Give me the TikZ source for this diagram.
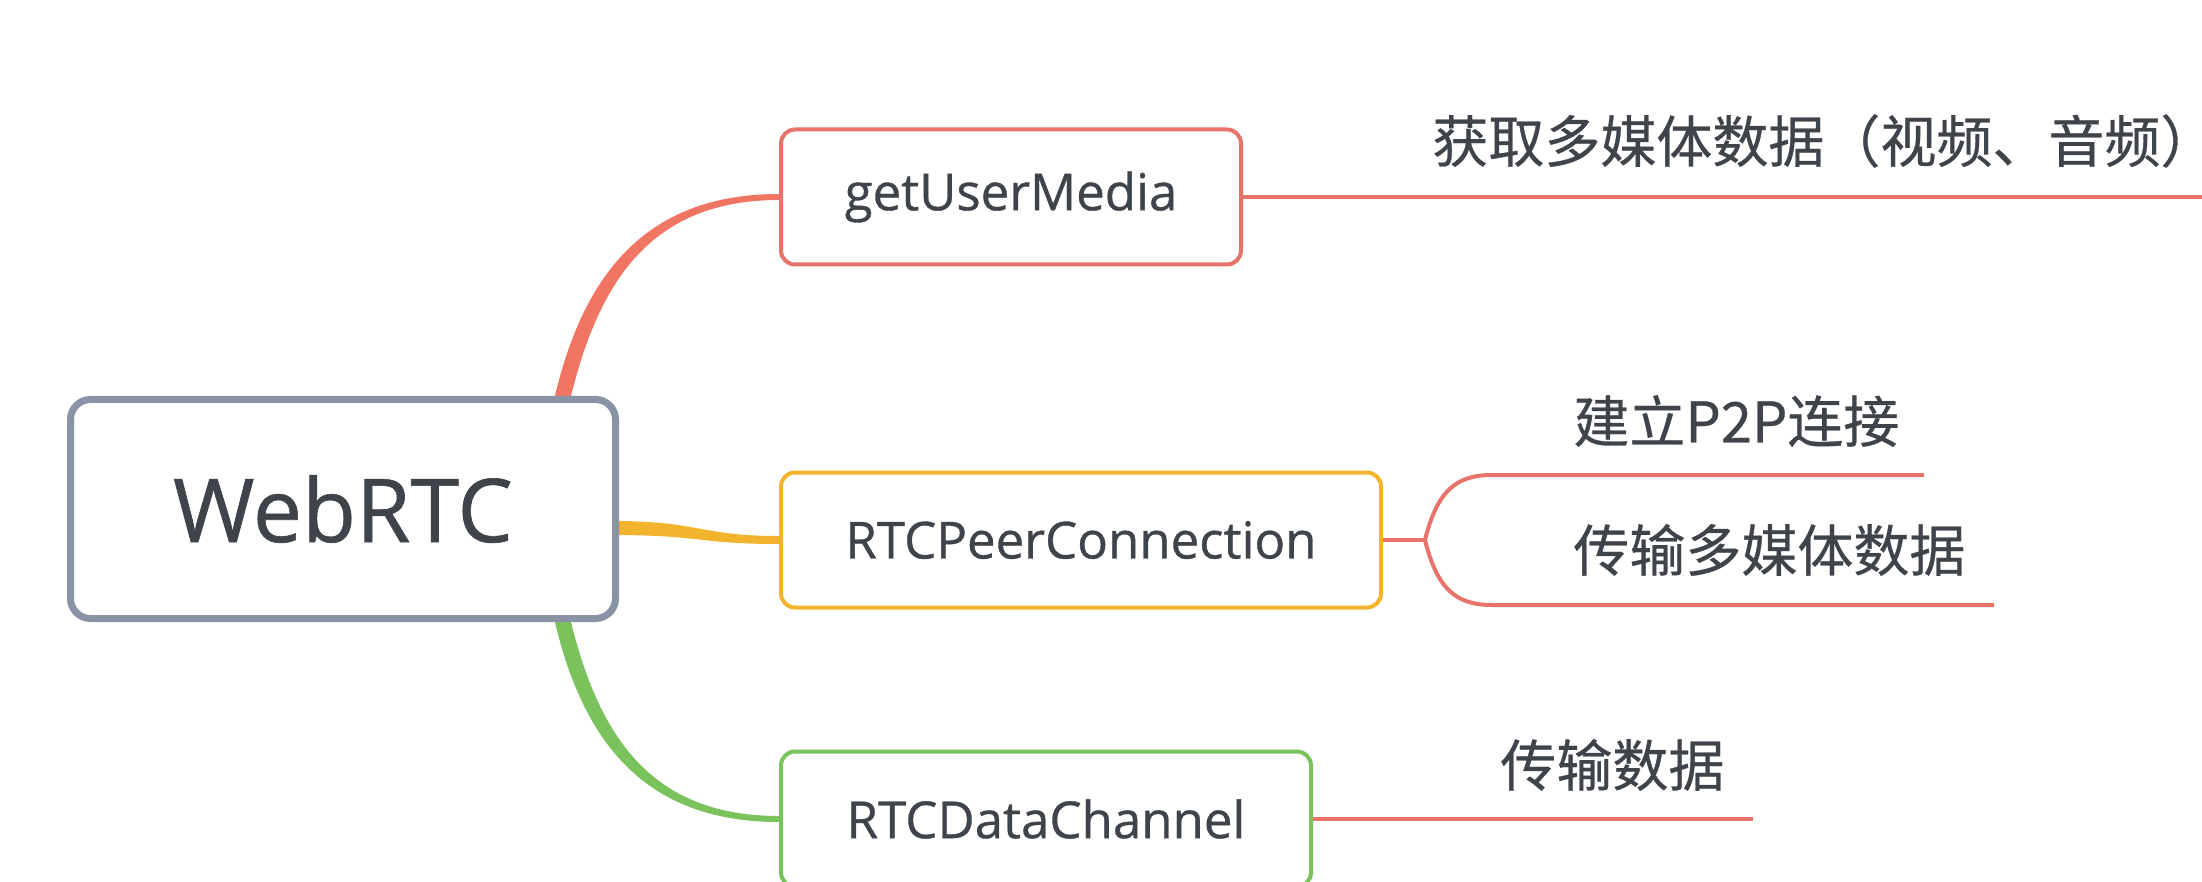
\documentclass[tikz,border=0pt]{standalone}
\usepackage{fontspec}
\setmainfont{Open Sans}[FakeBold=0.7]
\newfontfamily\cjk{Noto Sans CJK SC}[FakeBold=0.5]
\definecolor{txt}{HTML}{3F434A}
\definecolor{redc}{HTML}{E8736B}
\definecolor{redl}{HTML}{F07563}
\definecolor{orc}{HTML}{F2B42C}
\definecolor{grc}{HTML}{7AC25C}
\definecolor{grayc}{HTML}{8A93A6}
\begin{document}
\begin{tikzpicture}[x=0.5pt,y=-0.5pt,
  subbox/.style={draw, line width=2pt, rounded corners=7pt, fill=white,
    minimum height=67.5pt, inner sep=0pt, text=txt,
    font=\fontsize{25.5}{30}\selectfont},
  rootbox/.style={draw=grayc, line width=3.5pt, rounded corners=10pt, fill=white,
    minimum width=272.5pt, minimum height=109.5pt, inner sep=0pt, text=txt,
    font=\fontsize{44}{52}\selectfont},
  leaf/.style={anchor=west, inner sep=0pt, text=txt,
    font=\cjk\fontsize{28}{34}\selectfont},
  thinline/.style={draw=redc, line width=2pt}]
\useasboundingbox (0,0) rectangle (2202,882);
\clip (0,0) rectangle (2202,882);
\fill[white] (0,0) rectangle (2202,882);

% tapered connectors from the root
\fill[redl] (554,400) .. controls (582,278) and (643,194) .. (779,194)
  -- (779,200) .. controls (649,200) and (598,284) .. (570,400) -- cycle;
\fill[orc] (612,521) .. controls (700,521) and (700,536) .. (779,536)
  -- (779,544) .. controls (700,544) and (700,535) .. (612,535) -- cycle;
\fill[grc] (554,618) .. controls (582,740) and (643,822) .. (779,822)
  -- (779,816) .. controls (649,816) and (598,734) .. (570,618) -- cycle;

% nodes
\node[rootbox] (root) at (343,509) {WebRTC};
\node[subbox, draw=redc, minimum width=230pt] (gum) at (1011,197) {getUserMedia};
\node[subbox, draw=orc, minimum width=300pt] (pc) at (1081,540) {RTCPeerConnection};
\node[subbox, draw=grc, minimum width=265pt] (dc) at (1046,819) {RTCDataChannel};

% leaf lines
\coordinate (gumend) at (2215,197);
\draw[thinline] (gum.east) -- (gumend);
\node[leaf] (t1) at (1432,141) {获取多媒体数据（视频、音频）};

\coordinate (bp) at (1425,540);
\coordinate (p2pend) at (1924,475);
\coordinate (mmend) at (1994,605);
\draw[thinline] (pc.east) -- (bp);
\draw[thinline] (bp) .. controls (1437,492) and (1455,475) .. (1492,475) -- (p2pend);
\draw[thinline] (bp) .. controls (1437,588) and (1455,605) .. (1492,605) -- (mmend);
\node[leaf] (t2) at (1573,421) {建立P2P连接};
\node[leaf] (t3) at (1573,550) {传输多媒体数据};

\coordinate (dcend) at (1753,819);
\draw[thinline] (dc.east) -- (dcend);
\node[leaf] (t4) at (1500,765) {传输数据};
\end{tikzpicture}
\end{document}
